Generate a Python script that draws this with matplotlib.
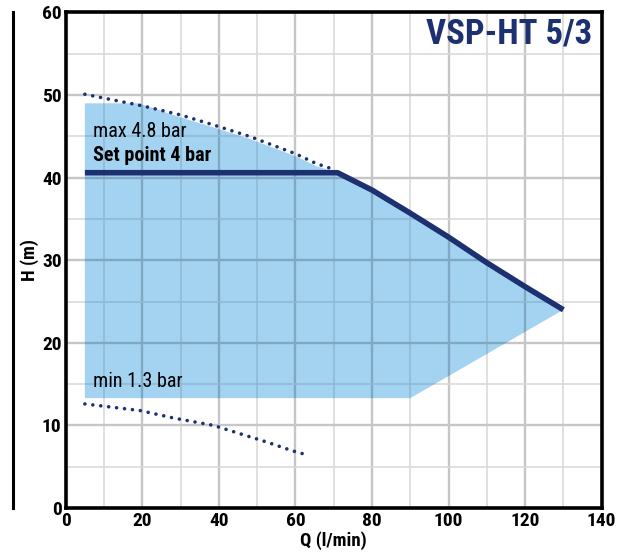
import matplotlib
matplotlib.use("Agg")
import matplotlib.pyplot as plt
from matplotlib.lines import Line2D

# curve data
max_q = [5, 20, 30, 38.5, 48, 60, 65.5, 70]
max_h = [50.1, 48.7, 47.6, 46.4, 45.0, 42.9, 41.7, 41.0]

min_q = [5, 19.4, 28.1, 38.6, 52.4, 59.4, 62.5]
min_h = [12.6, 11.8, 10.9, 10.0, 8.0, 6.9, 6.5]

set_q = [5, 71, 80, 90, 100, 110, 120, 130]
set_h = [40.6, 40.6, 38.5, 35.7, 32.8, 29.7, 26.8, 24.0]

fill_q = [5, 19, 30, 38.5, 48, 60, 65.5, 71, 80, 90, 100, 110, 120, 130, 90, 5]
fill_h = [49, 49, 47.3, 46.1, 44.7, 42.6, 41.4, 40.6, 38.5, 35.7, 32.8, 29.7, 26.8, 24.0, 13.3, 13.3]

x_ticks = [0, 20, 40, 60, 80, 100, 120, 140]
y_ticks = [0, 10, 20, 30, 40, 50, 60]

navy = "#1d3170"
fam = ["Roboto Condensed", "DejaVu Sans"]

L, B, W, H = 0.104, 0.0814, 0.848, 0.8960
fig = plt.figure(figsize=(6.32, 5.53), dpi=100)
ax = fig.add_axes([L, B, W, H])

# grid on white
def grid(major_col, minor_col, z, clip=None):
    for q in range(10, 140, 10):
        major = q % 20 == 0
        ln = ax.axvline(q, color=major_col if major else minor_col, lw=1.7 if major else 1.2, zorder=z)
        if clip is not None:
            ln.set_clip_path(clip)
    for h in range(5, 60, 5):
        major = h % 10 == 0
        ln = ax.axhline(h, color=major_col if major else minor_col, lw=1.7 if major else 1.2, zorder=z)
        if clip is not None:
            ln.set_clip_path(clip)

grid("#c6c6c6", "#dadada", 0.5)
patch = ax.fill(fill_q, fill_h, color="#a3d3f1", lw=0, zorder=1)[0]
# darker grid lines inside the shaded area
grid("#80a8c3", "#8fbad6", 1.5, clip=patch)

dots = dict(color=navy, lw=2.6, ls=(0, (0.01, 2.2)), dash_capstyle="round", zorder=3)
ax.plot(max_q, max_h, **dots)
ax.plot(min_q, min_h, **dots)
ax.plot(set_q, set_h, color=navy, lw=4, solid_capstyle="butt", zorder=4)

txt = dict(family=fam, zorder=5)
ax.text(7, 45.6, "max 4.8 bar", fontsize=14.5, va="center", **txt)
ax.text(7, 42.7, "Set point 4 bar", fontsize=14.5, fontweight="bold", va="center", **txt)
ax.text(7, 15.3, "min 1.3 bar", fontsize=14.5, va="center", **txt)
ax.text(137.5, 57.4, "VSP-HT 5/3", fontsize=25, fontweight="bold",
        color=navy, ha="right", va="center", **txt)

ax.set_xlim(0, 140)
ax.set_ylim(0, 60)
ax.set_xticks(x_ticks)
ax.set_yticks(y_ticks)
ax.tick_params(length=0, pad=3, labelsize=14)
for lab in ax.get_xticklabels() + ax.get_yticklabels():
    lab.set_family(fam)
    lab.set_fontweight("bold")
for s in ax.spines.values():
    s.set_linewidth(2.6)
    s.set_color("black")
    s.set_zorder(6)

ax.set_xlabel("Q (l/min)", fontsize=13.5, family=fam, fontweight="bold", labelpad=1)
ax.set_ylabel("H (m)", fontsize=13.5, family=fam, fontweight="bold", labelpad=2)

# decorative bar on the far left
fig.add_artist(Line2D([0.0206, 0.0206], [B, B + H], color="black", lw=2.2,
                      transform=fig.transFigure))

fig.savefig("out.png", dpi=100)
